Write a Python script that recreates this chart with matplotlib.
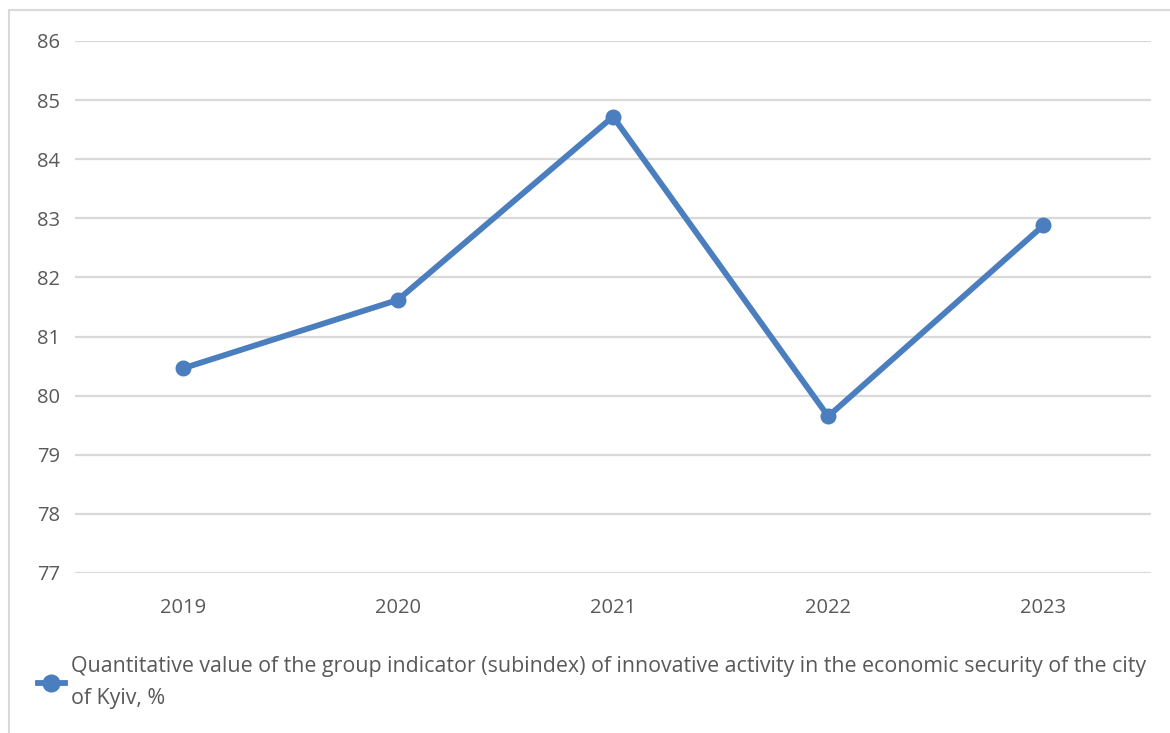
import matplotlib.pyplot as plt
from matplotlib.lines import Line2D
import matplotlib.patches as patches

years = ["2019", "2020", "2021", "2022", "2023"]
values = [80.46, 81.62, 84.72, 79.65, 82.88]
series_label = ("Quantitative value of the group indicator (subindex) of innovative activity in the economic security of the city\n"
                "of Kyiv, %")

plt.rcParams['font.family'] = ['Open Sans', 'DejaVu Sans']
text_col = '#595959'
line_col = '#4A7EBF'

fig = plt.figure(figsize=(11.7, 7.33), dpi=100)
W, H = 1170, 733
ax = fig.add_axes([75 / W, 1 - 573 / H, (1151 - 75) / W, (573 - 41) / H])

x = list(range(len(years)))
ax.plot(x, values, color=line_col, linewidth=4.2, marker='o', markersize=10.5,
        solid_capstyle='round', zorder=3)

ax.set_xlim(-0.5, 4.5)
ax.set_ylim(77, 86)
ax.set_yticks(range(77, 87))
ax.set_xticks(x)
ax.set_xticklabels(years)
ax.grid(axis='y', color='#d9d9d9', linewidth=1.6)
ax.set_axisbelow(True)
for s in ax.spines.values():
    s.set_visible(False)
ax.tick_params(axis='both', length=0, labelsize=14.5, colors=text_col)
ax.tick_params(axis='y', pad=11)
ax.tick_params(axis='x', pad=18)

# outer frame (left and top only visible)
fig.patches.append(patches.Rectangle((9 / W, -0.1), 1.2, 1 - 10 / H + 0.1,
                                     transform=fig.transFigure, fill=False,
                                     edgecolor='#d9d9d9', linewidth=1.5))

handle = Line2D([], [], color=line_col, linewidth=4.2, marker='o', markersize=12)
leg = fig.legend([handle], [series_label], loc='upper left',
                 bbox_to_anchor=(38 / W, 1 - 656 / H), frameon=False,
                 handlelength=1.25, handletextpad=0.3, fontsize=15.4,
                 labelcolor=text_col, borderaxespad=0, borderpad=0)
for t in leg.get_texts():
    t.set_linespacing(1.7)

fig.savefig("out.png", dpi=100)
